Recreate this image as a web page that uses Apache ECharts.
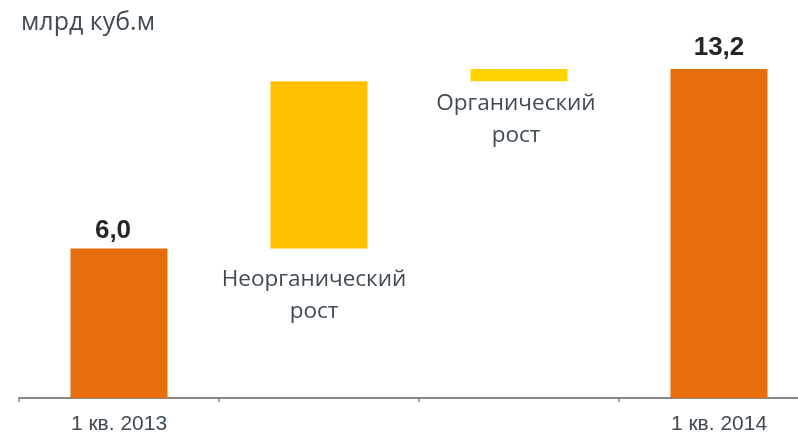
<!DOCTYPE html>
<html>
<head>
<meta charset="utf-8">
<script src="https://cdn.jsdelivr.net/npm/echarts@6/dist/echarts.min.js"></script>
<style>
  html, body { margin: 0; padding: 0; background: #fff; }
  #chart { width: 798px; height: 433px; }
</style>
</head>
<body>
<div id="chart"></div>
<script>
// Waterfall: gas volume, Q1 2013 -> Q1 2014 (bn cubic metres)
const categories = ['1 кв. 2013', 'Неорганический\nрост', 'Органический\nрост', '1 кв. 2014'];
const totals = [6.0, null, null, 13.2];        // full bars from zero
const increments = [null, 6.7, 0.5, null];     // floating steps
const totalLabels = ['6,0', '', '', '13,2'];
const unitLabel = 'млрд куб.м';

// invisible base under each floating step = running total before it
const base = [];
let running = 0;
for (let i = 0; i < categories.length; i++) {
  if (totals[i] != null) { base.push(null); running = totals[i]; }
  else { base.push(running); running += increments[i]; }
}

const textColor = '#3f4a52';
const stepColors = ['', '#FFC000', '#FFD200', ''];
const stepLabelGap = [0, 15, 6, 0];
const stepLabelShift = [0, -5, -3, 0];
const totalLabelGap = [5, 0, 0, 8];
const totalLabelShift = [-6, 0, 0, 0];

const chart = echarts.init(document.getElementById('chart'));
chart.setOption({
  animation: false,
  title: {
    text: unitLabel, left: 16, top: 5,
    textStyle: { fontFamily: 'Open Sans', fontSize: 25, fontWeight: 'normal', color: textColor }
  },
  grid: { left: 19, width: 800, top: 24, bottom: 35, outerBoundsMode: 'none', containLabel: false },
  xAxis: {
    type: 'category',
    data: categories,
    axisLine: { lineStyle: { color: '#888', width: 2 } },
    axisTick: { show: true, length: 4, lineStyle: { color: '#888', width: 1.5 } },
    axisLabel: {
      margin: 16,
      fontFamily: 'Liberation Sans', fontSize: 21, color: textColor,
      formatter: (v, i) => (totals[i] != null ? v : '')
    }
  },
  yAxis: { type: 'value', min: 0, max: 15, show: false, splitLine: { show: false } },
  series: [
    {
      type: 'bar', stack: 'w', data: base, barWidth: 97,
      itemStyle: { color: 'transparent' }, silent: true
    },
    {
      type: 'bar', stack: 'w', barWidth: 97,
      data: increments.map((v, i) => v == null ? null : {
        value: v,
        itemStyle: { color: stepColors[i] },
        label: { distance: stepLabelGap[i], offset: [stepLabelShift[i], 0] }
      }),
      label: {
        show: true, position: 'bottom',
        fontFamily: 'Open Sans', fontSize: 22.5, lineHeight: 32, color: textColor,
        formatter: p => categories[p.dataIndex]
      }
    },
    {
      type: 'bar', stack: 'w', barWidth: 97,
      data: totals.map((v, i) => v == null ? null : {
        value: v,
        label: { distance: totalLabelGap[i], offset: [totalLabelShift[i], 0] }
      }),
      itemStyle: { color: '#E56D0B' },
      label: {
        show: true, position: 'top',
        fontFamily: 'Liberation Sans', fontSize: 26, fontWeight: 'bold', color: '#262626',
        formatter: p => totalLabels[p.dataIndex]
      }
    }
  ]
});
</script>
</body>
</html>
